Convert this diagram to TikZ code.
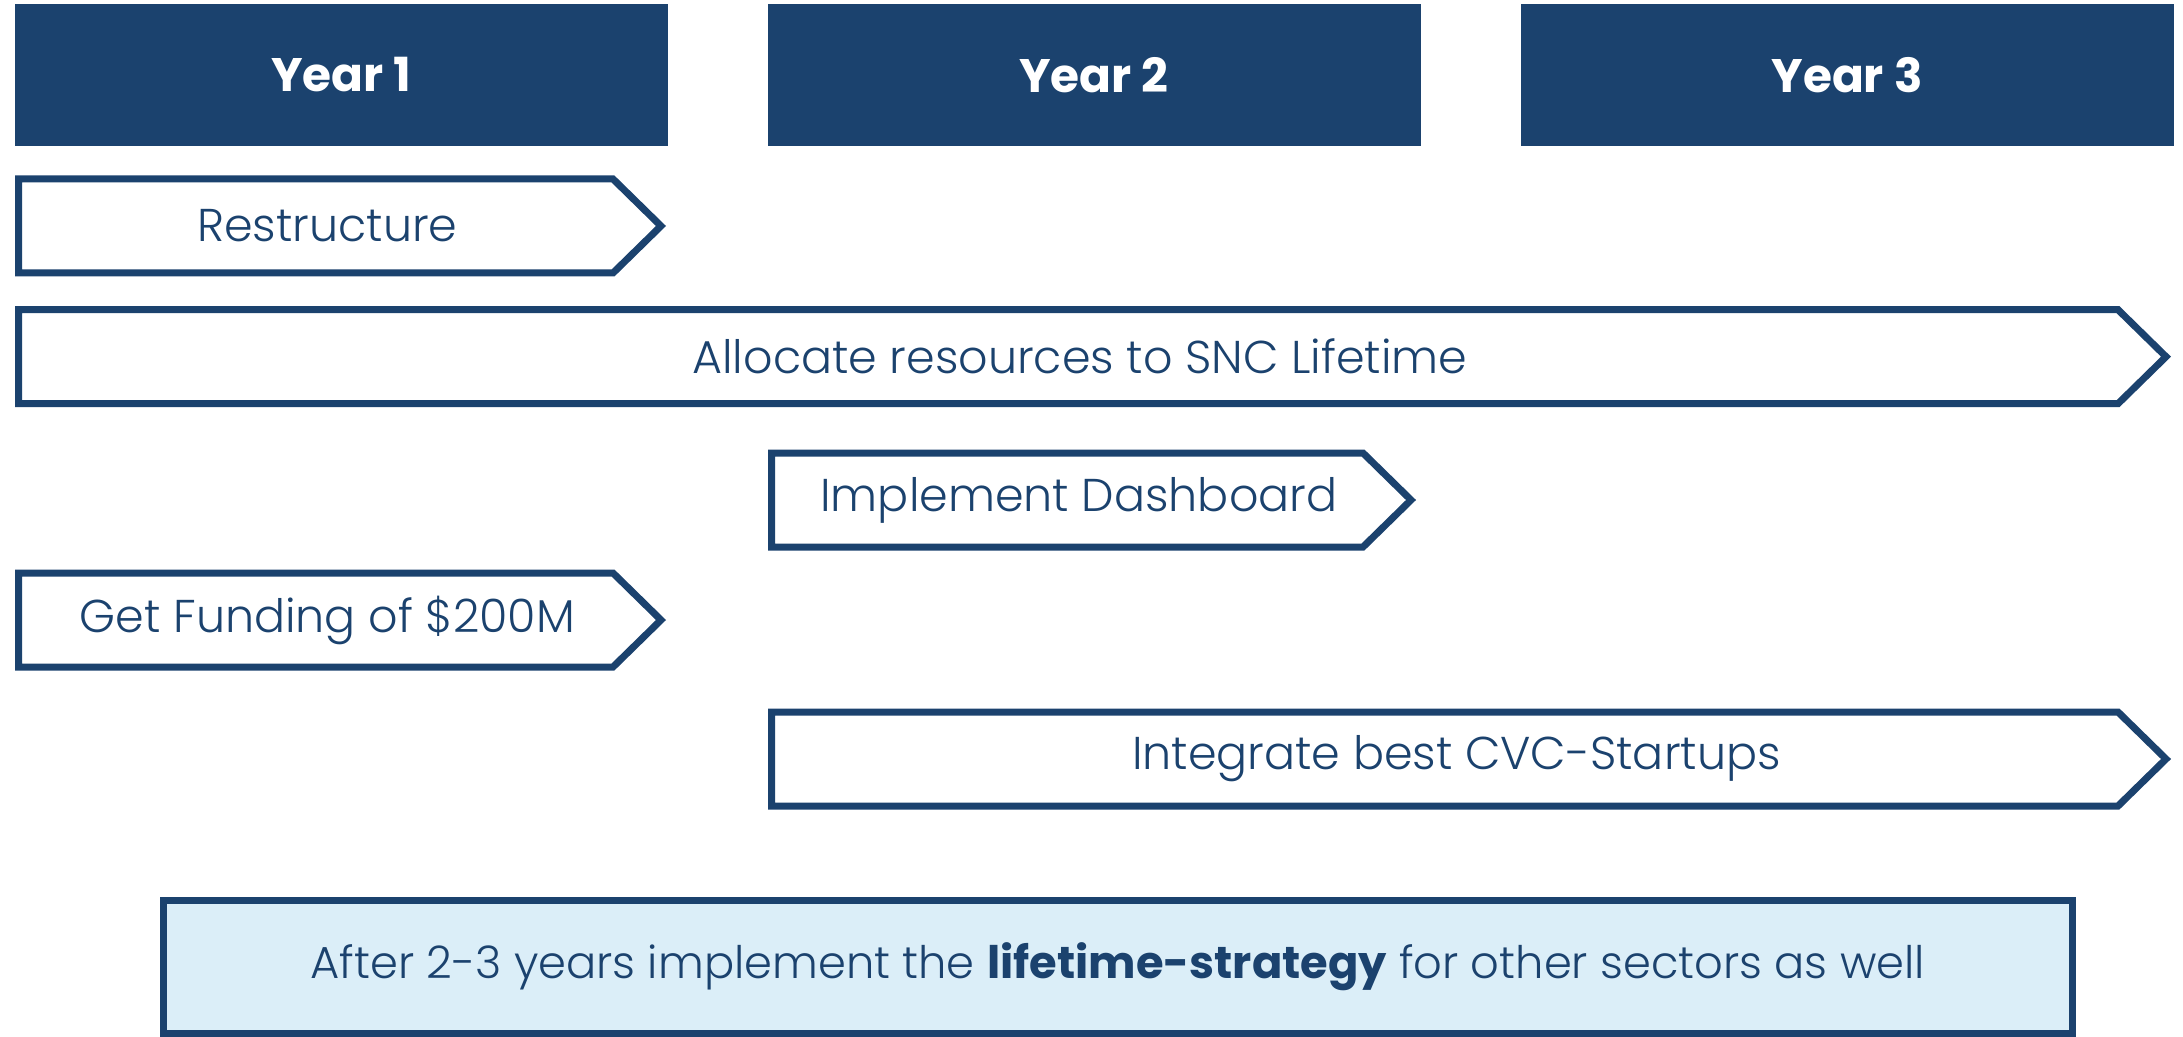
\documentclass[tikz,border=0pt]{standalone}
\usepackage{fontspec}
\setmainfont{Poppins Light}[BoldFont=Poppins Bold]
\definecolor{navy}{RGB}{27,66,110}
\definecolor{paleblue}{RGB}{219,238,248}

\tikzset{
    yearbox/.style={fill=navy, text=white, inner sep=0pt,
        minimum width=326.5pt, minimum height=70.8pt,
        font=\fontsize{23.5}{28}\selectfont\bfseries},
    bar/.style={draw=navy, line width=3.5pt, fill=white},
    bartext/.style={text=navy, inner sep=0pt, font=\fontsize{23}{28}\selectfont},
    outlook/.style={draw=navy, fill=paleblue, line width=3.5pt, text=navy,
        minimum width=954.2pt, minimum height=66.5pt, inner sep=0pt,
        font=\fontsize{22.4}{27}\selectfont},
}

% #1 name, #2 left, #3 tip, #4 top, #5 text
\newcommand{\taskbar}[5]{
    \draw[bar] (#2,#4) -- ({#3-48},#4) -- (#3,{#4+47}) -- ({#3-48},{#4+94})
        -- (#2,{#4+94}) -- cycle;
    \node[bartext] (#1) at ({(#2+#3-25)/2},{#4+47}) {#5};
}

\begin{document}
\begin{tikzpicture}[x=0.5pt, y=-0.5pt]
\useasboundingbox (0,0) rectangle (2183,1037);

\node[yearbox] (year1) at (341.5,74.9) {Year 1};
\node[yearbox] (year2) at (1094,74.9) {Year 2};
\node[yearbox] (year3) at (1847,74.9) {Year 3};

\taskbar{restructure}{18.7}{661}{179}{Restructure}
\taskbar{allocate}{18.7}{2166}{309.7}{Allocate resources to SNC Lifetime}
\taskbar{dashboard}{771.7}{1411}{453}{Implement Dashboard}
\taskbar{funding}{18.7}{661}{573}{Get Funding of \$200M}
\taskbar{startups}{771.7}{2166}{712}{Integrate best CVC-Startups}

\node[outlook] (after) at (1117.8,967)
    {After 2-3 years implement the \textbf{lifetime-strategy} for other sectors as well};
\end{tikzpicture}
\end{document}
